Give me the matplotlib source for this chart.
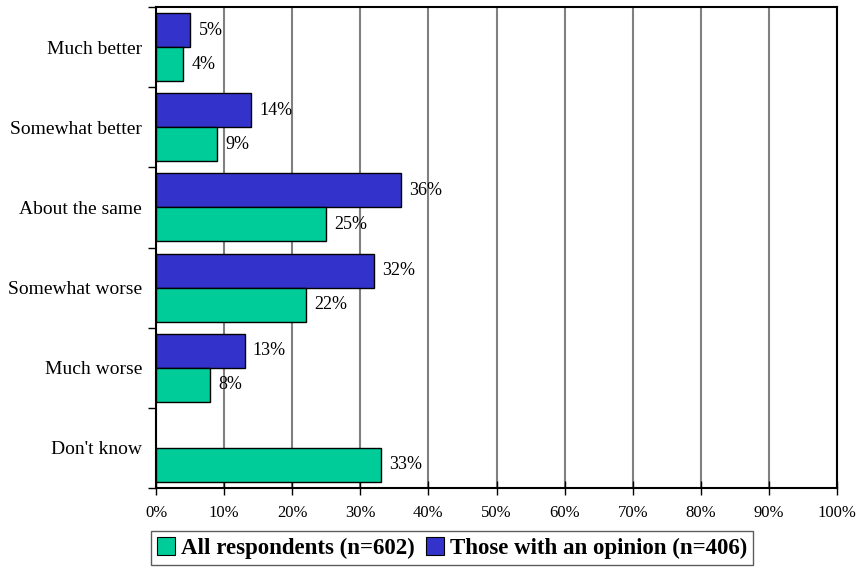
import numpy as np
import matplotlib
matplotlib.use("Agg")
import matplotlib.pyplot as plt
from matplotlib.patches import Patch

plt.rcParams['font.family'] = ['Liberation Serif', 'DejaVu Serif']

categories = ["Much better", "Somewhat better", "About the same",
              "Somewhat worse", "Much worse", "Don't know"]
all_respondents = [4, 9, 25, 22, 8, 33]
with_opinion = [5, 14, 36, 32, 13, None]
x_ticks = [0, 10, 20, 30, 40, 50, 60, 70, 80, 90, 100]
series_names = ["All respondents (n=602)", "Those with an opinion (n=406)"]

GREEN = "#00CC99"
BLUE = "#3333CC"

fig = plt.figure(figsize=(8.6, 5.7), dpi=100)
ax = fig.add_axes([156 / 860, 1 - 488 / 570, (837 - 156) / 860, (488 - 7) / 570])

h = 0.425
pos = np.arange(len(categories))

def draw_series(values, offset, color):
    for p, v in zip(pos, values):
        if v is None:
            continue
        ax.barh(p + offset, v, height=h, color=color, edgecolor="black",
                linewidth=1.0, zorder=3)
        ax.annotate(f"{v}%", xy=(v, p + offset), xytext=(6, 0),
                    textcoords="offset points", ha="left", va="center",
                    fontsize=13, zorder=4)

draw_series(with_opinion, -h / 2, BLUE)
draw_series(all_respondents, h / 2, GREEN)

ax.set_xlim(0, 100)
ax.set_ylim(len(categories) - 0.5, -0.5)

ax.set_xticks(x_ticks)
ax.set_xticklabels([f"{t}%" for t in x_ticks], fontsize=12)
ax.tick_params(axis="x", direction="inout", length=10, width=1, pad=7)

ax.set_yticks(pos)
ax.set_yticklabels(categories, fontsize=14)
for lbl in ax.get_yticklabels():
    lbl.set_y(lbl.get_position()[1])
ax.set_yticks(np.arange(len(categories) + 1) - 0.5, minor=True)
ax.tick_params(axis="y", which="major", length=0, pad=10)
ax.tick_params(axis="y", which="minor", length=6, width=1, direction="out")

ax.grid(axis="x", color="#808080", linewidth=1.5, zorder=0)
ax.set_axisbelow(True)
for side in ["left", "right", "top", "bottom"]:
    ax.spines[side].set_color("black")
    ax.spines[side].set_linewidth(1.5)

handles = [Patch(facecolor=GREEN, edgecolor="black", linewidth=0.8),
           Patch(facecolor=BLUE, edgecolor="black", linewidth=0.8)]
leg = fig.legend(handles, series_names, loc="center",
                 bbox_to_anchor=(452 / 860, 1 - 548 / 570), ncol=2,
                 prop={"weight": "bold", "size": 16.5}, frameon=True,
                 fancybox=False, shadow=False, handlelength=0.8,
                 handleheight=0.8, handletextpad=0.25, columnspacing=0.5,
                 borderpad=0.25, borderaxespad=0)
leg.get_frame().set_edgecolor("#333333")
leg.get_frame().set_linewidth(1.0)

fig.savefig("out.png", dpi=100)
